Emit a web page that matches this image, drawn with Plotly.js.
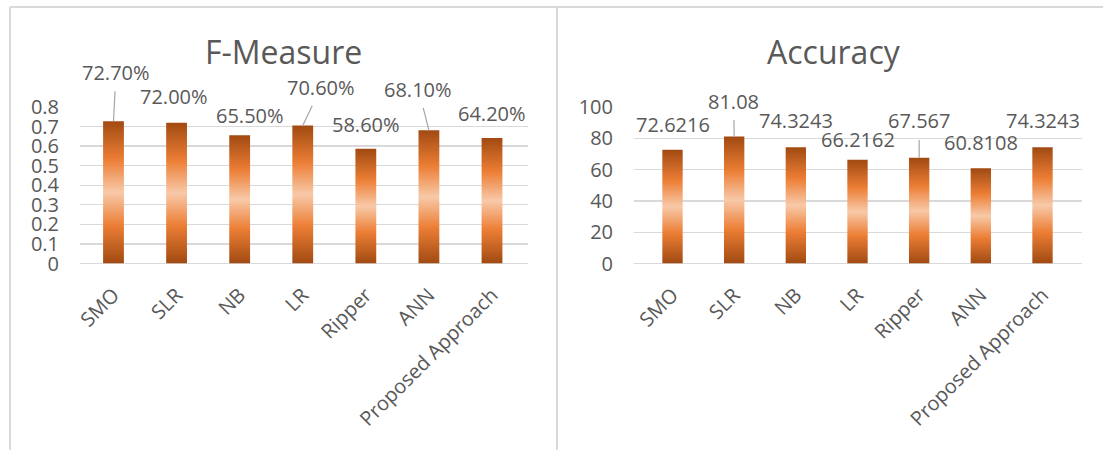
<!DOCTYPE html>
<html>
<head>
<meta charset="utf-8">
<script src="https://cdn.plot.ly/plotly-3.0.1.min.js"></script>
<style>
  html, body { margin: 0; padding: 0; background: #fff; }
  #chart { width: 1103px; height: 450px; }
</style>
</head>
<body>
<div id="chart"></div>
<script>
// ---- data ----
const categories = ["SMO", "SLR", "NB", "LR", "Ripper", "ANN", "Proposed Approach"];
const fMeasure = [0.727, 0.720, 0.655, 0.706, 0.586, 0.681, 0.642];
const accuracy = [72.6216, 81.08, 74.3243, 66.2162, 67.567, 60.8108, 74.3243];
const fTitle = "F-Measure";
const accTitle = "Accuracy";

// ---- label placement (pixels), [dx, dy, leaderLine] ----
const fLabelPos = [[2.5, -49, true], [-2.5, -26.6, false], [10.5, -20.3, false], [18.5, -38.3, true], [0, -24.7, false], [-10.5, -41.2, true], [0, -24.8, false]];
const accLabelPos = [[0.5, -25.3, false], [-0.5, -35.6, true], [0, -26.2, false], [0, -20.4, false], [0, -36.8, true], [0, -25.8, false], [0.5, -26.2, false]];

const W = 1103, H = 450;
const textColor = "#595959";
const gridColor = "#d9d9d9";
const font = "Open Sans, Lato, sans-serif";

function px(x) { return x / W; }
function py(y) { return 1 - y / H; }

const traces = [
  { type: "bar", x: categories, y: fMeasure, xaxis: "x", yaxis: "y", marker: { color: "#ed7d31" }, hoverinfo: "skip", showlegend: false },
  { type: "bar", x: categories, y: accuracy, xaxis: "x2", yaxis: "y2", marker: { color: "#ed7d31" }, hoverinfo: "skip", showlegend: false }
];

function makeLabels(vals, pos, fmt, xr, yr) {
  return vals.map((v, i) => {
    const [dx, dy, leader] = pos[i];
    const base = {
      x: categories[i], y: v, xref: xr, yref: yr,
      text: fmt(v), font: { family: font, size: 20, color: textColor },
      xanchor: "center", yanchor: "middle"
    };
    if (leader) {
      return Object.assign(base, { showarrow: true, ax: dx, ay: dy, arrowhead: 0, arrowwidth: 1.2, arrowcolor: "#a6a6a6", standoff: 0, startstandoff: 4 });
    }
    return Object.assign(base, { showarrow: false, xshift: dx, yshift: -dy });
  });
}

const annotations = [].concat(
  makeLabels(fMeasure, fLabelPos, v => (v * 100).toFixed(2) + "%", "x", "y"),
  makeLabels(accuracy, accLabelPos, v => String(v), "x2", "y2"),
  [
    { xref: "paper", yref: "paper", x: px(283.5), y: py(51.6), text: fTitle, showarrow: false, xanchor: "center", yanchor: "middle", font: { family: font, size: 32, color: textColor } },
    { xref: "paper", yref: "paper", x: px(834), y: py(51.6), text: accTitle, showarrow: false, xanchor: "center", yanchor: "middle", font: { family: font, size: 32, color: textColor } }
  ]
);

const yDomain = [py(263.5), py(107)];
const xCommon = {
  type: "category", tickangle: -45, showgrid: false, zeroline: false, showline: false, ticks: "",
  ticklabelstandoff: 15,
  tickfont: { family: font, size: 20, color: textColor }, fixedrange: true
};
const yCommon = {
  domain: yDomain, showgrid: true, gridcolor: gridColor, gridwidth: 1.3, zeroline: true, zerolinecolor: gridColor, zerolinewidth: 1.3,
  showline: false, ticks: "", ticklabelstandoff: 20, tickfont: { family: font, size: 20, color: textColor }, fixedrange: true
};

const layout = {
  width: W, height: H, margin: { l: 0, r: 0, t: 0, b: 0 },
  paper_bgcolor: "#fff", plot_bgcolor: "rgba(0,0,0,0)",
  bargap: 0.67, showlegend: false,
  xaxis: Object.assign({}, xCommon, { domain: [px(80), px(528)], anchor: "y" }),
  yaxis: Object.assign({}, yCommon, { range: [0, 0.8], dtick: 0.1, anchor: "x" }),
  xaxis2: Object.assign({}, xCommon, { domain: [px(634), px(1082)], anchor: "y2" }),
  yaxis2: Object.assign({}, yCommon, { range: [0, 100], dtick: 20, anchor: "x2" }),
  annotations: annotations,
  shapes: [
    { type: "line", xref: "paper", yref: "paper", x0: px(10), x1: 1, y0: py(7), y1: py(7), line: { color: gridColor, width: 2 } },
    { type: "line", xref: "paper", yref: "paper", x0: px(10), x1: px(10), y0: py(7), y1: 0, line: { color: gridColor, width: 2 } },
    { type: "line", xref: "paper", yref: "paper", x0: px(557), x1: px(557), y0: py(7), y1: 0, line: { color: gridColor, width: 2 } }
  ]
};

Plotly.newPlot("chart", traces, layout, { staticPlot: true, displayModeBar: false }).then(gd => {
  const svg = gd.querySelector("svg.main-svg");
  const ns = "http://www.w3.org/2000/svg";
  let defs = svg.querySelector("defs");
  if (!defs) { defs = document.createElementNS(ns, "defs"); svg.insertBefore(defs, svg.firstChild); }
  const grad = document.createElementNS(ns, "linearGradient");
  grad.setAttribute("id", "barGrad");
  grad.setAttribute("x1", "0"); grad.setAttribute("y1", "0");
  grad.setAttribute("x2", "0"); grad.setAttribute("y2", "1");
  [["0", "#a14a12"], ["0.27", "#ec7e35"], ["0.5", "#f8c9a8"], ["0.73", "#ec7e35"], ["1", "#a14a12"]].forEach(([o, c]) => {
    const s = document.createElementNS(ns, "stop");
    s.setAttribute("offset", o); s.setAttribute("stop-color", c);
    grad.appendChild(s);
  });
  defs.appendChild(grad);
  gd.querySelectorAll(".barlayer .point path").forEach(p => { p.style.fill = "url(#barGrad)"; });
});
</script>
</body>
</html>
